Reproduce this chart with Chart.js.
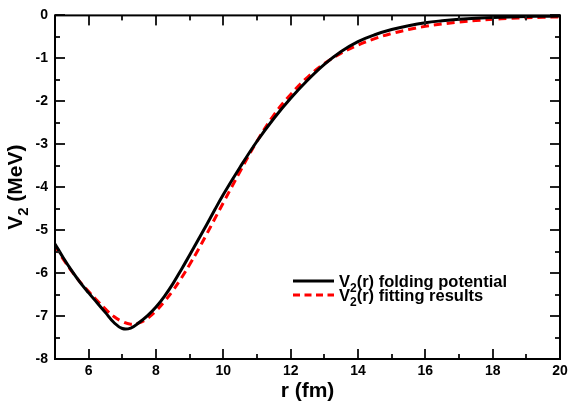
<!DOCTYPE html>
<html><head><meta charset="utf-8">
<script src="https://cdn.jsdelivr.net/npm/chart.js@4"></script>
<style>html,body{margin:0;padding:0;background:#fff}#wrap{width:581px;height:407px}</style>
</head><body><div id="wrap"><canvas id="c" width="581" height="407"></canvas></div>
<script>
const rValues   = [5,5.25,5.5,5.75,6,6.25,6.5,6.75,7,7.25,7.5,7.75,8,8.25,8.5,8.75,9,9.25,9.5,9.75,10,10.5,11,11.5,12,12.5,13,13.5,14,14.5,15,15.5,16,16.5,17,17.5,18,18.5,19,19.5,20];
const foldingV  = [-5.32,-5.65,-5.95,-6.22,-6.46,-6.69,-6.92,-7.15,-7.29,-7.28,-7.15,-6.99,-6.79,-6.54,-6.25,-5.92,-5.58,-5.23,-4.88,-4.52,-4.17,-3.53,-2.93,-2.40,-1.93,-1.51,-1.14,-0.84,-0.61,-0.45,-0.33,-0.24,-0.17,-0.125,-0.09,-0.065,-0.05,-0.035,-0.025,-0.02,-0.015];
const fittingV  = [-5.37,-5.68,-5.96,-6.21,-6.43,-6.64,-6.84,-7.01,-7.13,-7.19,-7.16,-7.05,-6.88,-6.66,-6.41,-6.12,-5.80,-5.46,-5.10,-4.73,-4.36,-3.63,-2.93,-2.32,-1.84,-1.44,-1.12,-0.88,-0.69,-0.54,-0.42,-0.33,-0.255,-0.20,-0.155,-0.12,-0.09,-0.07,-0.055,-0.045,-0.035];
const xTickValues  = [6,8,10,12,14,16,18,20];
const xMinorValues = [5,7,9,11,13,15,17,19];
const yTickValues  = [0,-1,-2,-3,-4,-5,-6,-7,-8];
const yMinorValues = [-0.5,-1.5,-2.5,-3.5,-4.5,-5.5,-6.5,-7.5];
const seriesNames  = ['V2(r) folding potential','V2(r) fitting results'];
const legendParts  = [[['V',0],['2',1],['(r) folding potential',0]],[['V',0],['2',1],['(r) fitting results',0]]];
const xTitleParts  = [['r (fm)',0]];
const yTitleParts  = [['V',0],['2',1],[' (MeV)',0]];

const FONT = '"Liberation Sans", Arial, Helvetica, sans-serif';

function rich(ctx, parts, x, y, size, align) {
  const sub = Math.round(size * 0.72);
  const widths = parts.map(p => { ctx.font = 'bold ' + (p[1] ? sub : size) + 'px ' + FONT; return ctx.measureText(p[0]).width; });
  const total = widths.reduce((a, b) => a + b, 0);
  let cx = align === 'center' ? x - total / 2 : x;
  ctx.textAlign = 'left';
  ctx.textBaseline = 'alphabetic';
  parts.forEach((p, i) => {
    ctx.font = 'bold ' + (p[1] ? sub : size) + 'px ' + FONT;
    ctx.fillText(p[0], cx, y + (p[1] ? size * 0.28 : 0));
    cx += widths[i];
  });
}

const decor = {
  id: 'decor',
  afterDraw(chart) {
    const ctx = chart.ctx, a = chart.chartArea;
    const xs = chart.scales.x, ys = chart.scales.y;
    const xPix = v => a.left + (v - xs.min) / (xs.max - xs.min) * (a.right - a.left);
    const yPix = v => a.bottom - (v - ys.min) / (ys.max - ys.min) * (a.bottom - a.top);
    ctx.save();
    ctx.setLineDash([]);
    ctx.globalAlpha = 1;
    ctx.fillStyle = '#222222';
    const xt = (vals, len) => vals.forEach(v => {
      const px = Math.round(xPix(v));
      ctx.fillRect(px - 1, a.bottom - len, 2, len);
      ctx.fillRect(px - 1, a.top, 2, len);
    });
    const yt = (vals, len) => vals.forEach(v => {
      const py = Math.round(yPix(v));
      ctx.fillRect(a.left, py - 1, len, 2);
      ctx.fillRect(a.right - len, py - 1, len, 2);
    });
    xt(xTickValues, 10); xt(xMinorValues, 5);
    yt(yTickValues, 10); yt(yMinorValues, 5);
    ctx.strokeStyle = '#000';
    ctx.lineWidth = 2;
    ctx.strokeRect(a.left, a.top, a.right - a.left, a.bottom - a.top);

    ctx.fillStyle = '#000';
    rich(ctx, xTitleParts, (a.left + a.right) / 2, 397, 21, 'center');
    ctx.save();
    ctx.translate(22, (a.top + a.bottom) / 2);
    ctx.rotate(-Math.PI / 2);
    rich(ctx, yTitleParts, 0, 0, 21, 'center');
    ctx.restore();

    // legend
    const rows = [281, 295];
    chart.data.datasets.forEach((ds, i) => {
      ctx.beginPath();
      ctx.strokeStyle = ds.borderColor;
      ctx.lineWidth = 3;
      ctx.setLineDash(ds.borderDash ? [7, 4.5] : []);
      ctx.moveTo(293, rows[i]); ctx.lineTo(334, rows[i]);
      ctx.stroke();
      ctx.setLineDash([]);
      ctx.fillStyle = '#000';
      rich(ctx, legendParts[i], 339, rows[i] + 6, 16.5, 'left');
    });
    ctx.restore();
  }
};

const toPts = ys => rValues.map((r, i) => ({x: r, y: ys[i]}));

new Chart(document.getElementById('c'), {
  type: 'line',
  data: {
    datasets: [
      {label: seriesNames[0], data: toPts(foldingV), borderColor: '#000', borderWidth: 3, pointRadius: 0, tension: 0.4, fill: false},
      {label: seriesNames[1], data: toPts(fittingV), borderColor: '#ff0000', borderWidth: 3, borderDash: [8, 5], pointRadius: 0, tension: 0.4, fill: false}
    ]
  },
  options: {
    responsive: false, animation: false, devicePixelRatio: 1,
    layout: {padding: {top: 14, right: 21, left: 0, bottom: 0}},
    plugins: {legend: {display: false}, tooltip: {enabled: false}},
    scales: {
      x: {
        type: 'linear', min: 5, max: 20,
        afterBuildTicks: s => { s.ticks = xTickValues.map(v => ({value: v})); },
        afterFit: s => { s.height = 48; },
        grid: {display: false, drawTicks: false}, border: {display: false},
        ticks: {color: '#000', font: {family: FONT, size: 14, weight: 'bold'}, padding: 4, maxRotation: 0, autoSkip: false}
      },
      y: {
        type: 'linear', min: -8, max: 0,
        afterBuildTicks: s => { s.ticks = yTickValues.map(v => ({value: v})); },
        afterFit: s => { s.width = 55; },
        grid: {display: false, drawTicks: false}, border: {display: false},
        ticks: {color: '#000', font: {family: FONT, size: 14, weight: 'bold'}, padding: 7, autoSkip: false}
      }
    }
  },
  plugins: [decor]
});
</script></body></html>
